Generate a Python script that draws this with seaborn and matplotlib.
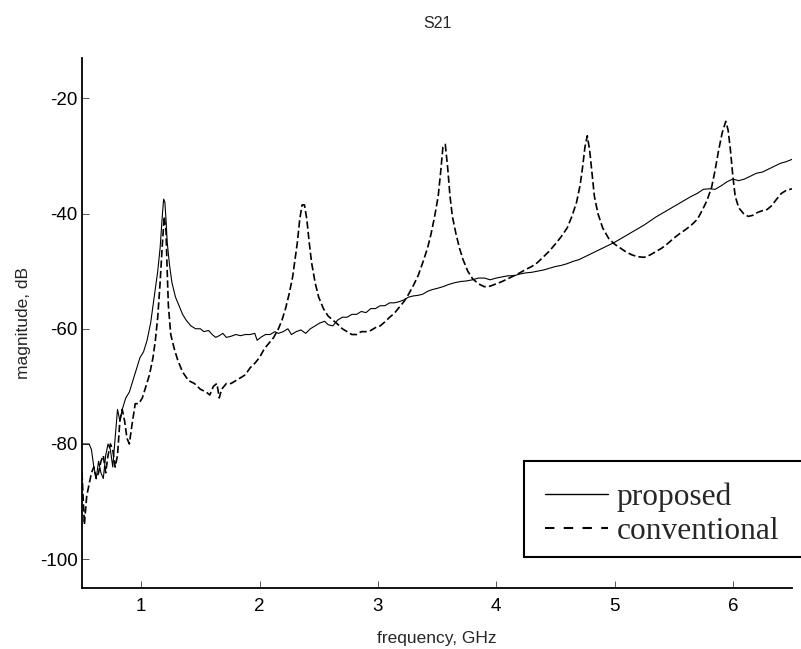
import matplotlib
matplotlib.use("Agg")
import matplotlib.pyplot as plt
from matplotlib.lines import Line2D
from matplotlib.patches import Rectangle
import seaborn as sns

# Measured S21 magnitude (dB) versus frequency (GHz)
freq_proposed = [
    0.50, 0.56, 0.58, 0.60, 0.62, 0.64, 0.66, 0.68, 0.70, 0.72, 0.74, 0.76, 0.78,
    0.80, 0.82, 0.84, 0.87, 0.90, 0.93, 0.96, 0.99, 1.02, 1.05, 1.08, 1.10, 1.12,
    1.14, 1.16, 1.18, 1.19, 1.20, 1.21, 1.22, 1.24, 1.26, 1.29, 1.32, 1.35, 1.38,
    1.42, 1.46, 1.50, 1.53, 1.57, 1.60, 1.63, 1.66, 1.69, 1.72, 1.76, 1.80, 1.84,
    1.88, 1.92, 1.96, 1.98, 2.01, 2.05, 2.09, 2.13, 2.16, 2.20, 2.24, 2.27, 2.31,
    2.35, 2.39, 2.43, 2.47, 2.51, 2.55, 2.58, 2.62, 2.66, 2.70, 2.74, 2.78, 2.82,
    2.86, 2.90, 2.94, 2.98, 3.02, 3.06, 3.10, 3.14, 3.18, 3.22, 3.26, 3.30, 3.34,
    3.38, 3.42, 3.46, 3.50, 3.55, 3.60, 3.65, 3.70, 3.75, 3.80, 3.85, 3.90, 3.95,
    4.00, 4.05, 4.10, 4.15, 4.20, 4.25, 4.30, 4.35, 4.40, 4.45, 4.50, 4.55, 4.60,
    4.65, 4.70, 4.75, 4.80, 4.85, 4.90, 4.95, 5.00, 5.05, 5.10, 5.15, 5.20, 5.25,
    5.30, 5.35, 5.40, 5.45, 5.50, 5.55, 5.60, 5.65, 5.70, 5.75, 5.80, 5.85, 5.90,
    5.95, 6.00, 6.05, 6.10, 6.15, 6.20, 6.25, 6.30, 6.35, 6.40, 6.45, 6.50,
]
mag_proposed = [
    -80.0, -80.0, -81.0, -84.0, -86.0, -83.0, -85.0, -86.0, -82.0, -80.0, -81.0, -84.0, -79.0,
    -74.0, -76.0, -74.0, -72.0, -71.0, -69.0, -67.0, -65.0, -64.0, -62.0, -59.0, -56.0, -53.0,
    -50.0, -46.0, -40.0, -37.5, -38.0, -41.0, -45.0, -49.0, -52.0, -54.5, -56.0, -57.5, -58.5,
    -59.5, -60.0, -60.0, -60.5, -60.3, -61.0, -61.5, -61.2, -60.8, -61.5, -61.3, -61.0, -61.2,
    -61.0, -61.0, -60.8, -62.0, -61.5, -61.0, -61.0, -60.5, -60.8, -60.5, -60.0, -61.0, -60.5,
    -60.2, -60.8, -60.0, -59.5, -59.0, -58.7, -59.3, -59.5, -58.5, -58.0, -58.0, -57.5, -57.5,
    -57.0, -57.2, -56.5, -56.5, -56.0, -56.0, -55.5, -55.5, -55.3, -55.0, -54.5, -54.3, -54.2,
    -54.0, -53.5, -53.2, -53.0, -52.7, -52.3, -52.0, -51.8, -51.7, -51.5, -51.2, -51.2, -51.5,
    -51.2, -51.0, -50.8, -50.8, -50.5, -50.3, -50.2, -50.0, -49.8, -49.5, -49.2, -49.0, -48.7,
    -48.3, -48.0, -47.5, -47.0, -46.5, -46.0, -45.5, -45.0, -44.4, -43.8, -43.2, -42.6, -42.0,
    -41.3, -40.6, -40.0, -39.4, -38.8, -38.2, -37.6, -37.0, -36.5, -35.8, -35.7, -35.8, -35.2,
    -34.5, -34.0, -34.3, -34.0, -33.5, -33.0, -32.8, -32.3, -31.8, -31.3, -31.0, -30.6,
]

freq_conventional = [
    0.50, 0.52, 0.54, 0.56, 0.58, 0.60, 0.62, 0.64, 0.66, 0.68, 0.70, 0.72, 0.74,
    0.76, 0.78, 0.80, 0.82, 0.84, 0.86, 0.88, 0.90, 0.92, 0.95, 0.98, 1.01, 1.04,
    1.07, 1.10, 1.12, 1.14, 1.16, 1.18, 1.195, 1.21, 1.22, 1.23, 1.25, 1.28, 1.31,
    1.35, 1.40, 1.45, 1.50, 1.55, 1.58, 1.61, 1.64, 1.66, 1.68, 1.72, 1.76, 1.80,
    1.84, 1.88, 1.92, 1.96, 2.00, 2.04, 2.08, 2.12, 2.16, 2.19, 2.22, 2.25, 2.28,
    2.30, 2.32, 2.34, 2.36, 2.38, 2.40, 2.42, 2.44, 2.47, 2.50, 2.54, 2.58, 2.62,
    2.66, 2.70, 2.74, 2.78, 2.82, 2.86, 2.90, 2.94, 2.98, 3.02, 3.06, 3.10, 3.14,
    3.18, 3.22, 3.26, 3.30, 3.34, 3.38, 3.42, 3.45, 3.48, 3.51, 3.53, 3.55, 3.57,
    3.59, 3.61, 3.63, 3.66, 3.69, 3.72, 3.76, 3.80, 3.85, 3.90, 3.95, 4.00, 4.05,
    4.10, 4.15, 4.20, 4.25, 4.30, 4.35, 4.40, 4.45, 4.50, 4.55, 4.60, 4.64, 4.68,
    4.71, 4.73, 4.75, 4.77, 4.79, 4.81, 4.83, 4.86, 4.90, 4.95, 5.00, 5.05, 5.10,
    5.15, 5.20, 5.25, 5.30, 5.35, 5.40, 5.45, 5.50, 5.55, 5.60, 5.65, 5.70, 5.74,
    5.78, 5.82, 5.85, 5.88, 5.91, 5.94, 5.96, 5.98, 6.00, 6.02, 6.05, 6.09, 6.13,
    6.17, 6.21, 6.25, 6.29, 6.33, 6.37, 6.41, 6.45, 6.50,
]
mag_conventional = [
    -85.0, -94.0, -89.0, -87.0, -85.0, -84.0, -86.0, -85.0, -83.0, -82.0, -85.0, -82.0, -80.0,
    -81.0, -84.0, -82.0, -76.0, -74.0, -76.0, -79.0, -80.0, -77.0, -73.0, -73.0, -72.0, -70.0,
    -68.0, -65.0, -62.0, -58.0, -52.0, -45.0, -40.5, -43.0, -50.0, -56.0, -61.0, -63.5, -65.5,
    -67.5, -69.0, -69.5, -70.5, -71.0, -71.5, -70.0, -69.5, -72.0, -70.5, -69.5, -69.5, -69.0,
    -68.5, -68.0, -66.8, -66.0, -65.0, -63.5, -62.5, -61.5, -60.0, -58.5, -56.5, -54.0, -51.0,
    -48.0, -45.0, -41.0, -38.5, -38.5, -41.0, -45.0, -48.5, -52.0, -54.5, -56.5, -57.8, -58.5,
    -59.2, -60.0, -60.5, -61.0, -61.0, -60.5, -60.5, -60.3, -59.8, -59.5, -58.8, -58.0, -57.3,
    -56.3, -55.3, -54.0, -52.5, -50.8, -48.5, -46.0, -43.5, -40.5, -37.0, -33.0, -28.5, -28.0,
    -32.0, -37.0, -40.5, -43.5, -46.0, -48.0, -50.0, -51.3, -52.2, -52.7, -52.6, -52.2, -51.8,
    -51.3, -50.8, -50.3, -49.7, -49.2, -48.5, -47.5, -46.5, -45.3, -44.0, -42.5, -40.5, -38.0,
    -35.0, -32.0, -28.5, -26.5, -29.0, -33.0, -37.0, -40.0, -42.5, -44.3, -45.3, -46.0, -46.7,
    -47.2, -47.5, -47.6, -47.2, -46.6, -46.0, -45.2, -44.3, -43.5, -42.8, -42.0, -41.0, -39.5,
    -37.8, -35.5, -32.5, -29.0, -26.0, -24.0, -25.5, -29.0, -33.5, -37.0, -39.0, -40.0, -40.5,
    -40.3, -39.8, -39.5, -39.3, -38.6, -37.5, -36.5, -36.0, -35.7,
]

series_labels = ["proposed", "conventional"]
x_ticks = [1, 2, 3, 4, 5, 6]
y_ticks = [-100, -80, -60, -40, -20]

sns.set_style("ticks")
plt.rcParams["font.family"] = ["Liberation Sans", "DejaVu Sans"]

W, H = 801, 649
fig = plt.figure(figsize=(W / 100, H / 100), dpi=100)
ax = fig.add_axes([82 / W, 1 - 588 / H, 710 / W, 530 / H])

sns.lineplot(x=freq_proposed, y=mag_proposed, ax=ax, color="black", lw=0.8,
             estimator=None, sort=False)
sns.lineplot(x=freq_conventional, y=mag_conventional, ax=ax, color="black", lw=1.2,
             linestyle=(0, (4.4, 1.9)), estimator=None, sort=False)

ax.set_xlim(0.5, 6.5)
ax.set_ylim(-105, -13)
ax.set_xticks(x_ticks)
ax.set_yticks(y_ticks)
ax.set_xticklabels([str(t) for t in x_ticks])
ax.set_yticklabels([str(t) for t in y_ticks])

for side in ("top", "right"):
    ax.spines[side].set_visible(False)
for side in ("left", "bottom"):
    ax.spines[side].set_color("black")
    ax.spines[side].set_linewidth(1.3)

ax.tick_params(axis="both", direction="in", length=5, width=0.7, color="#555555",
               labelsize=13.5, labelcolor="black")
ax.tick_params(axis="x", pad=7)
ax.tick_params(axis="y", pad=3)

ax.set_xlabel("frequency, GHz", fontsize=12.5)
ax.set_ylabel("magnitude, dB", fontsize=12.5)
ax.xaxis.set_label_coords(0.5, -(639 - 588) / 530)
ax.xaxis.label.set_va("center")
ax.yaxis.set_label_coords(-(82 - 24) / 710, 0.5)
ax.yaxis.label.set_va("center")
ax.set_title("S21", fontsize=11.5, y=1 + (58 - 23) / 530, va="center", pad=0)

# legend: white box running off the right edge, serif entries
box = Rectangle((524 / W, 1 - 557 / H), (W + 10 - 524) / W, 96 / H,
                transform=fig.transFigure, facecolor="white", edgecolor="black",
                linewidth=1.5, zorder=5)
fig.add_artist(box)
handles = [
    Line2D([], [], color="black", lw=1.0),
    Line2D([], [], color="black", lw=1.5, linestyle=(0, (4.5, 4.5))),
]
leg = fig.legend(handles, series_labels, loc="center left",
                 bbox_to_anchor=(545 / W, 1 - 514.5 / H), frameon=False,
                 prop={"family": "Liberation Serif", "size": 22.6},
                 handlelength=2.0, handletextpad=0.29, labelspacing=0.17,
                 borderpad=0, borderaxespad=0)
leg.set_zorder(6)

fig.savefig("out.png", dpi=100)
